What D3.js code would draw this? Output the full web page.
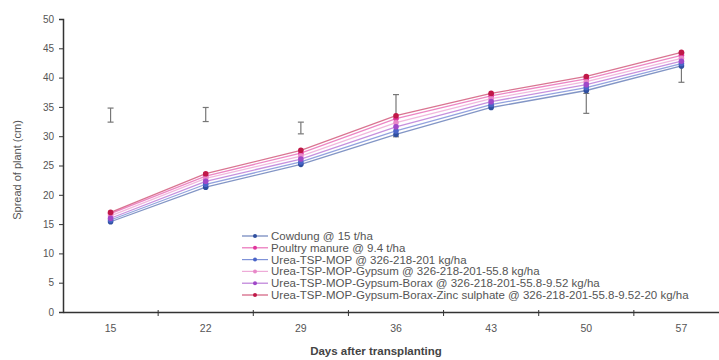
<!DOCTYPE html>
<html>
<head>
<meta charset="utf-8">
<script src="https://cdn.jsdelivr.net/npm/d3@7"></script>
<style>
  body { margin: 0; background: #fff; }
  svg { display: block; font-family: "Liberation Sans", Arial, sans-serif; }
</style>
</head>
<body>
<div id="chart"></div>
<script>
// days after transplanting
var days = [15, 22, 29, 36, 43, 50, 57]
var yTicks = [0, 5, 10, 15, 20, 25, 30, 35, 40, 45, 50]

var seriesNames = [
  "Cowdung @ 15 t/ha",
  "Poultry manure @ 9.4 t/ha",
  "Urea-TSP-MOP @ 326-218-201 kg/ha",
  "Urea-TSP-MOP-Gypsum @ 326-218-201-55.8 kg/ha",
  "Urea-TSP-MOP-Gypsum-Borax @ 326-218-201-55.8-9.52 kg/ha",
  "Urea-TSP-MOP-Gypsum-Borax-Zinc sulphate @ 326-218-201-55.8-9.52-20 kg/ha"
]
var seriesColors = ["#2f4f9f", "#e0359c", "#4a64c8", "#e888c8", "#a048c8", "#c01848"]

var cowdung  = [15.4, 21.3, 25.2, 30.3, 34.9, 37.8, 42.0]
var poultry  = [16.8, 23.2, 27.1, 33.0, 36.9, 39.8, 43.8]
var utm      = [15.7, 21.8, 25.6, 30.9, 35.4, 38.3, 42.4]
var gypsum   = [16.4, 22.8, 26.6, 32.3, 36.4, 39.3, 43.3]
var borax    = [16.0, 22.3, 26.1, 31.6, 35.9, 38.8, 42.8]
var zinc     = [17.0, 23.6, 27.6, 33.5, 37.3, 40.2, 44.3]
var allSeries = [cowdung, poultry, utm, gypsum, borax, zinc]

// error bars (centre, half length)
var errMid  = [33.6, 33.7, 31.4, 33.5, 36.2, 35.6, 41.7]
var errHalf = [1.2, 1.2, 1.0, 3.6, 1.0, 1.7, 2.5]

var width = 719, height = 360

var svg = d3.select("#chart")
  .append("svg")
    .attr("width", width)
    .attr("height", height)

var x = d3.scaleBand()
  .domain(days)
  .range([63, 729])
  .padding(0)

var y = d3.scaleLinear()
  .domain([0, 50])
  .range([312, 19])

var cx = function(d) { return x(d) + x.bandwidth() / 2 }

// y axis
var yAxis = svg.append("g")
  .attr("transform", "translate(63,0)")
  .call(d3.axisLeft(y).tickValues(yTicks).tickSize(4).tickPadding(5))
yAxis.select(".domain").attr("stroke", "#333").attr("stroke-width", 1.5)
yAxis.selectAll(".tick line").attr("stroke", "#333")
yAxis.selectAll("text").style("font-size", "10px").attr("fill", "#555")

// x axis
var xAxis = svg.append("g")
  .attr("transform", "translate(0,312)")
  .call(d3.axisBottom(x).tickSize(0).tickPadding(13))
xAxis.select(".domain").attr("stroke", "#333").attr("stroke-width", 1.5)
xAxis.selectAll("text").style("font-size", "10.5px").attr("fill", "#555")
// tick marks between categories
xAxis.selectAll(".between")
  .data(days.slice(1))
  .enter()
  .append("line")
    .attr("x1", d => x(d))
    .attr("x2", d => x(d))
    .attr("y1", -2)
    .attr("y2", 4)
    .attr("stroke", "#333")

// axis titles
svg.append("text")
  .attr("transform", "translate(21,170) rotate(-90)")
  .attr("text-anchor", "middle")
  .style("font-size", "11px")
  .attr("fill", "#555")
  .text("Spread of plant (cm)")

svg.append("text")
  .attr("x", 376)
  .attr("y", 355)
  .attr("text-anchor", "middle")
  .style("font-size", "11.5px")
  .style("font-weight", "bold")
  .attr("fill", "#444")
  .text("Days after transplanting")

// error bars
var err = svg.append("g").attr("stroke", "#777").attr("stroke-width", 1.2)
days.forEach(function(d, i) {
  var top = y(errMid[i] + errHalf[i]), bot = y(errMid[i] - errHalf[i])
  err.append("line").attr("x1", cx(d)).attr("x2", cx(d)).attr("y1", top).attr("y2", bot)
  err.append("line").attr("x1", cx(d) - 3).attr("x2", cx(d) + 3).attr("y1", top).attr("y2", top)
  err.append("line").attr("x1", cx(d) - 3).attr("x2", cx(d) + 3).attr("y1", bot).attr("y2", bot)
})

// lines and markers
var line = d3.line()
  .x((v, i) => cx(days[i]))
  .y(v => y(v))

allSeries.forEach(function(vals, s) {
  svg.append("path")
    .datum(vals)
    .attr("d", line)
    .attr("fill", "none")
    .attr("stroke", seriesColors[s])
    .attr("stroke-width", 1.3)
    .attr("opacity", 0.6)
})
allSeries.forEach(function(vals, s) {
  svg.selectAll(".m" + s)
    .data(vals)
    .enter()
    .append("circle")
      .attr("cx", (v, i) => cx(days[i]))
      .attr("cy", v => y(v))
      .attr("r", 2.8)
      .attr("fill", seriesColors[s])
})

// legend
var legend = svg.append("g").attr("transform", "translate(242,236)")
var rows = legend.selectAll("g")
  .data(seriesNames)
  .enter()
  .append("g")
    .attr("transform", (d, i) => "translate(0," + (i * 11.8) + ")")
rows.append("line")
  .attr("x1", 0).attr("x2", 26)
  .attr("stroke", (d, i) => seriesColors[i])
  .attr("stroke-width", 1.2)
  .attr("opacity", 0.7)
rows.append("circle")
  .attr("cx", 13).attr("r", 2)
  .attr("fill", (d, i) => seriesColors[i])
rows.append("text")
  .attr("x", 29)
  .attr("dy", "0.35em")
  .style("font-size", "11.5px")
  .attr("fill", "#555")
  .text(d => d)
</script>
</body>
</html>
